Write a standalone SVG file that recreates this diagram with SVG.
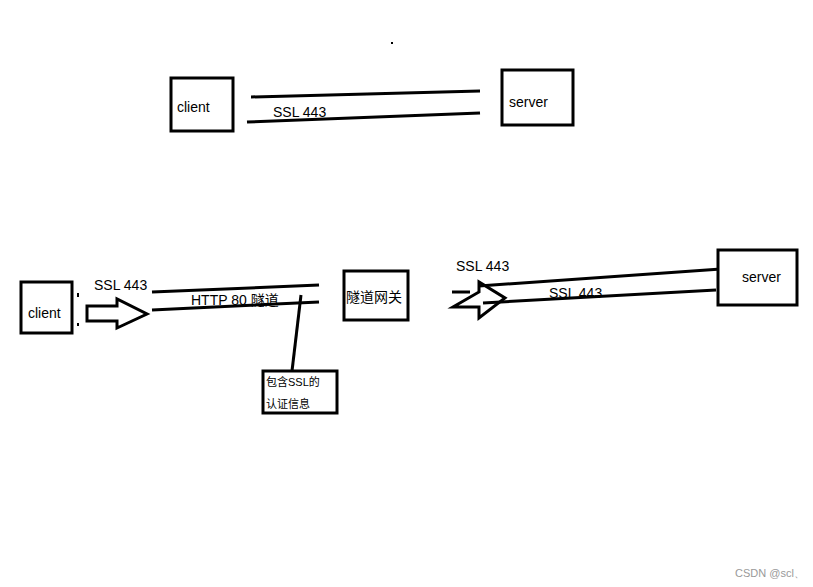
<svg xmlns="http://www.w3.org/2000/svg" width="813" height="587" viewBox="0 0 813 587">
<style>
.b{fill:#fff;stroke:#000;stroke-width:3}
.l{stroke:#000;stroke-width:3;fill:none}
.t{font-family:"Liberation Sans","Noto Sans CJK SC",sans-serif;font-size:14px;fill:#000}
.s{font-family:"Liberation Sans","Noto Sans CJK SC",sans-serif;font-size:11px;fill:#000}
</style>
<rect width="813" height="587" fill="#fff"/>
<rect x="391" y="42" width="2" height="2" fill="#000"/>
<g id="connectors">
<line class="l" x1="251" y1="97" x2="480" y2="91"/>
<line class="l" x1="247" y1="122" x2="480" y2="113"/>
<line class="l" x1="152" y1="292" x2="319" y2="285"/>
<line class="l" x1="152" y1="310" x2="319" y2="302"/>
<line class="l" x1="301" y1="295" x2="292" y2="371"/>
<polygon class="l" points="87,306 117,306 117,299 147,314 117,328 117,321 87,321"/>
<line class="l" x1="452" y1="292" x2="470" y2="292"/>
<polygon class="l" points="453,307 479,307 479,318 505,298 479,282 479,292" fill="none"/>
<line class="l" x1="479" y1="286" x2="721" y2="269"/>
<line class="l" x1="483" y1="303" x2="716" y2="290"/>
<rect x="77" y="293" width="2" height="4" fill="#000"/>
<rect x="77" y="323" width="2" height="3" fill="#000"/>
</g>
<g id="client1"><rect class="b" x="171" y="78" width="62" height="53"/><text class="t" x="177" y="112">client</text></g>
<g id="server1"><rect class="b" x="502" y="70" width="71" height="55"/><text class="t" x="509" y="107">server</text></g>
<text class="t" x="273" y="117">SSL 443</text>
<g id="client2"><rect class="b" x="21" y="282" width="51" height="51"/><text class="t" x="28" y="318">client</text></g>
<text class="t" x="94" y="290">SSL 443</text>
<text class="t" x="191" y="305">HTTP 80  隧道</text>
<g id="gateway"><rect class="b" x="344" y="271" width="64" height="49"/><text class="t" x="346" y="302">隧道网关</text></g>
<g id="note"><rect class="b" x="263" y="371" width="74" height="42"/><text class="s" x="266" y="386">包含SSL的</text><text class="s" x="266" y="408">认证信息</text></g>
<text class="t" x="456" y="271">SSL 443</text>
<text class="t" x="549" y="298">SSL 443</text>
<g id="server2"><rect class="b" x="718" y="250" width="79" height="55"/><text class="t" x="742" y="282">server</text></g>
<text x="735" y="577" style="font-family:'Liberation Sans',sans-serif;font-size:11px;fill:#999">CSDN @scl、</text>
</svg>
